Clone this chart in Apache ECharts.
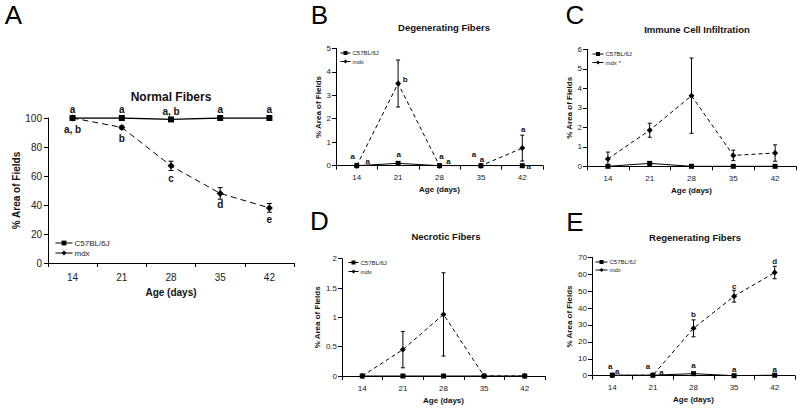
<!DOCTYPE html>
<html><head><meta charset="utf-8">
<script src="https://cdn.jsdelivr.net/npm/echarts@6/dist/echarts.min.js"></script>
<style>html,body{margin:0;padding:0;background:#fff}#c{width:800px;height:410px}</style>
</head><body><div id="c"></div>
<script>
// ---------- DATA ----------
const ages = ['14', '21', '28', '35', '42'];
const nameC57 = 'C57BL/6J';
const nameMdx = 'mdx';

// A: Normal Fibers
const normalTitle = 'Normal Fibers';
const normalTicks = [0, 20, 40, 60, 80, 100];
const normalC57 = [100, 100, 99, 100, 100];
const normalC57Err = [0, 0, 0.5, 0, 0];
const normalMdx = [100, 93.5, 67, 48, 38];
const normalMdxErr = [0, 1, 3.2, 4, 3];
const normalC57Letters = ['a', 'a', 'a, b', 'a', 'a'];
const normalMdxLetters = ['a, b', 'b', 'c', 'd', 'e'];

// B: Degenerating Fibers
const degenTitle = 'Degenerating Fibers';
const degenTicks = [0, 1, 2, 3, 4, 5];
const degenC57 = [0, 0.1, 0, 0, 0];
const degenC57Err = [0, 0.05, 0, 0, 0];
const degenMdx = [0, 3.5, 0, 0, 0.75];
const degenMdxErr = [0, 1.0, 0, 0, 0.55];
const degenC57Letters = ['a', 'a', 'a', 'a', 'a'];
const degenMdxLetters = ['a', 'b', 'a', 'a', 'a'];

// C: Immune Cell Infiltration
const immuneTitle = 'Immune Cell Infiltration';
const immuneTicks = [0, 1, 2, 3, 4, 5, 6];
const immuneC57 = [0, 0.15, 0, 0, 0];
const immuneC57Err = [0, 0.08, 0, 0, 0];
const immuneMdx = [0.38, 1.85, 3.62, 0.56, 0.68];
const immuneMdxErr = [0.35, 0.36, 1.93, 0.27, 0.42];

// D: Necrotic Fibers
const necroTitle = 'Necrotic Fibers';
const necroTicks = [0, 0.5, 1, 1.5, 2];
const necroC57 = [0, 0, 0, 0, 0];
const necroC57Err = [0, 0, 0, 0, 0];
const necroMdx = [0, 0.45, 1.05, 0, 0];
const necroMdxErr = [0, 0.31, 0.71, 0, 0];

// E: Regenerating Fibers
const regenTitle = 'Regenerating Fibers';
const regenTicks = [0, 10, 20, 30, 40, 50, 60, 70];
const regenC57 = [0.3, 0.3, 1.2, 0, 0.3];
const regenC57Err = [0, 0, 0.6, 0, 0];
const regenMdx = [0.2, 0.3, 28, 47, 61];
const regenMdxErr = [0, 0, 5, 3.5, 3.7];
const regenC57Letters = ['a', 'a', 'a', 'a', 'a'];
const regenMdxLetters = ['a', 'a', 'b', 'c', 'd'];

// ---------- LAYOUT ----------
const FONT = '"Liberation Sans", Arial, Helvetica, sans-serif';
const INK = '#111';
const panels = [
  { tag: 'A', title: normalTitle, ticks: normalTicks,
    c57: normalC57, c57Err: normalC57Err, mdx: normalMdx, mdxErr: normalMdxErr,
    c57Letters: normalC57Letters, mdxLetters: normalMdxLetters,
    grid: { left: 48, top: 118, width: 246, height: 145 },
    titlePos: [171, 97], titleSize: 12, tagPos: [13.5, 15],
    tickSize: 10, nameSize: 10, xNameGap: 24, yNameGap: 27, xLabelMargin: 9, yLabelMargin: 6,
    legend: { left: 55, top: 239, itemWidth: 17, itemHeight: 6, fontSize: 8, gap: 2, lh: 8 },
    sym: 6, lineW: 1.3, dash: [6, 4], cap: 2.5, letterSize: 10, legendStar: false,
    c57Off: [[0,-9],[0,-9],[0,-8],[0,-9],[0,-9]],
    mdxOff: [[0,11.5],[0,11],[0,12.5],[0,11.5],[0,12]] },
  { tag: 'B', title: degenTitle, ticks: degenTicks,
    c57: degenC57, c57Err: degenC57Err, mdx: degenMdx, mdxErr: degenMdxErr,
    c57Letters: degenC57Letters, mdxLetters: degenMdxLetters,
    grid: { left: 336, top: 48.3, width: 207, height: 117.4 },
    titlePos: [444, 27.5], titleSize: 9.5, tagPos: [319.5, 15],
    tickSize: 8, nameSize: 8, xNameGap: 20, yNameGap: 13.5, xLabelMargin: 8, yLabelMargin: 5,
    legend: { left: 340, top: 49.5, itemWidth: 10, itemHeight: 5, fontSize: 6, gap: 1.5, lh: 7 },
    sym: 5, lineW: 1, dash: [4, 3], cap: 2, letterSize: 8, legendStar: false,
    c57Off: [[-4,-9],[0.5,-8.7],[2,-9],[-7,-11],[6.5,1]],
    mdxOff: [[11,-4.4],[7,-4],[9,-4.4],[1,-6.4],[1,-19]] },
  { tag: 'C', title: immuneTitle, ticks: immuneTicks,
    c57: immuneC57, c57Err: immuneC57Err, mdx: immuneMdx, mdxErr: immuneMdxErr,
    c57Letters: null, mdxLetters: null,
    grid: { left: 587, top: 49.3, width: 209, height: 117 },
    titlePos: [697, 29], titleSize: 9.5, tagPos: [575, 15],
    tickSize: 8, nameSize: 8, xNameGap: 20, yNameGap: 12.5, xLabelMargin: 8, yLabelMargin: 5,
    legend: { left: 592, top: 50.5, itemWidth: 11, itemHeight: 5, fontSize: 6, gap: 1.5, lh: 7 },
    sym: 5, lineW: 1, dash: [4, 3], cap: 2, letterSize: 8, legendStar: true },
  { tag: 'D', title: necroTitle, ticks: necroTicks,
    c57: necroC57, c57Err: necroC57Err, mdx: necroMdx, mdxErr: necroMdxErr,
    c57Letters: null, mdxLetters: null,
    grid: { left: 342, top: 258.7, width: 203, height: 117.3 },
    titlePos: [446, 236], titleSize: 9.5, tagPos: [319.5, 221],
    tickSize: 8, nameSize: 8, xNameGap: 20, yNameGap: 18.5, xLabelMargin: 8, yLabelMargin: 5,
    legend: { left: 348, top: 259, itemWidth: 10, itemHeight: 5, fontSize: 6, gap: 2, lh: 7 },
    sym: 5, lineW: 1, dash: [4, 3], cap: 2, letterSize: 8, legendStar: false },
  { tag: 'E', title: regenTitle, ticks: regenTicks,
    c57: regenC57, c57Err: regenC57Err, mdx: regenMdx, mdxErr: regenMdxErr,
    c57Letters: regenC57Letters, mdxLetters: regenMdxLetters,
    grid: { left: 592, top: 257.3, width: 203, height: 118.4 },
    titlePos: [695, 237.5], titleSize: 9.5, tagPos: [575, 221.5],
    tickSize: 8, nameSize: 8, xNameGap: 20, yNameGap: 18.5, xLabelMargin: 8, yLabelMargin: 5,
    legend: { left: 595, top: 258.5, itemWidth: 12, itemHeight: 5, fontSize: 6, gap: 1, lh: 7 },
    sym: 5, lineW: 1, dash: [4, 3], cap: 2, letterSize: 8, legendStar: false,
    c57Off: [[-2,-9],[-5,-9],[0,-8],[0,-6.5],[0,-6]],
    mdxOff: [[5,-3.5],[8.5,-3],[0,-14],[0,-10],[0,-11]] }
];

// ---------- BUILD ----------
function errSeries(gi, vals, errs, cap) {
  return {
    type: 'custom', xAxisIndex: gi, yAxisIndex: gi, z: 5, silent: true,
    itemStyle: { color: '#000' },
    data: vals.map((v, i) => [i, v, errs[i]]),
    renderItem(params, api) {
      const i = api.value(0), v = api.value(1), e = api.value(2);
      if (!e) return null;
      const t = api.coord([i, v + e]), b = api.coord([i, v - e]);
      const st = { stroke: '#000', lineWidth: 1 };
      return { type: 'group', children: [
        { type: 'line', shape: { x1: t[0], y1: t[1], x2: b[0], y2: b[1] }, style: st },
        { type: 'line', shape: { x1: t[0] - cap, y1: t[1], x2: t[0] + cap, y2: t[1] }, style: st },
        { type: 'line', shape: { x1: b[0] - cap, y1: b[1], x2: b[0] + cap, y2: b[1] }, style: st }
      ]};
    }
  };
}
function letterSeries(gi, vals, letters, offs, size) {
  return {
    type: 'custom', xAxisIndex: gi, yAxisIndex: gi, z: 6, silent: true,
    itemStyle: { color: INK },
    data: vals.map((v, i) => [i, v]),
    renderItem(params, api) {
      const k = params.dataIndex;
      const p = api.coord([api.value(0), api.value(1)]);
      return { type: 'text', x: p[0] + offs[k][0], y: p[1] + offs[k][1],
        style: { text: letters[k], align: 'center', verticalAlign: 'middle',
          fontFamily: FONT, fontWeight: 'bold', fontSize: size, fill: INK, stroke: null } };
    }
  };
}

const grid = [], xAxis = [], yAxis = [], series = [], legend = [], graphic = [];
panels.forEach((p, gi) => {
  grid.push(Object.assign({ containLabel: false }, p.grid));
  xAxis.push({
    type: 'category', gridIndex: gi, data: ages, boundaryGap: true,
    name: 'Age (days)', nameLocation: 'middle', nameGap: p.xNameGap,
    nameTextStyle: { fontFamily: FONT, fontWeight: 'bold', fontSize: p.nameSize, color: INK },
    axisLine: { lineStyle: { color: '#000', width: 1 } },
    axisTick: { show: true, alignWithLabel: false, length: 4, lineStyle: { color: '#000' } },
    axisLabel: { fontFamily: FONT, fontSize: p.tickSize, color: '#222', margin: p.xLabelMargin },
    splitLine: { show: false }
  });
  const t = p.ticks;
  yAxis.push({
    type: 'value', gridIndex: gi, min: t[0], max: t[t.length - 1], interval: t[1] - t[0],
    name: '% Area of Fields', nameLocation: 'middle', nameGap: p.yNameGap, nameRotate: 90,
    nameTextStyle: { fontFamily: FONT, fontWeight: 'bold', fontSize: p.nameSize, color: INK },
    axisLine: { show: true, lineStyle: { color: '#000', width: 1 } },
    axisTick: { show: true, length: 4, lineStyle: { color: '#000' } },
    axisLabel: { fontFamily: FONT, fontSize: p.tickSize, color: '#222', margin: p.yLabelMargin },
    splitLine: { show: false }
  });
  series.push({
    type: 'line', name: nameMdx, xAxisIndex: gi, yAxisIndex: gi, data: p.mdx, z: 2,
    symbol: 'diamond', symbolSize: p.sym + 1, showSymbol: true,
    lineStyle: { color: '#000', width: 1, type: p.dash },
    itemStyle: { color: '#000' }, animation: false
  });
  series.push({
    type: 'line', name: nameC57, xAxisIndex: gi, yAxisIndex: gi, data: p.c57, z: 3,
    symbol: 'rect', symbolSize: p.sym, showSymbol: true,
    lineStyle: { color: '#000', width: p.lineW, type: 'solid' },
    itemStyle: { color: '#000' }, animation: false
  });
  series.push(errSeries(gi, p.mdx, p.mdxErr, p.cap));
  series.push(errSeries(gi, p.c57, p.c57Err, p.cap));
  if (p.c57Letters) series.push(letterSeries(gi, p.c57, p.c57Letters, p.c57Off, p.letterSize));
  if (p.mdxLetters) series.push(letterSeries(gi, p.mdx, p.mdxLetters, p.mdxOff, p.letterSize));
  const L = p.legend;
  legend.push({
    orient: 'vertical', left: L.left, top: L.top, padding: 0, itemGap: L.gap,
    itemWidth: L.itemWidth, itemHeight: L.itemHeight, selectedMode: false,
    data: [nameC57, nameMdx],
    lineStyle: { type: 'solid', width: 1 },
    textStyle: { fontFamily: FONT, fontSize: L.fontSize, lineHeight: L.lh, color: '#222', padding: [0, 0, 0, -3] },
    formatter: p.legendStar ? (n => n === nameMdx ? n + ' *' : n) : (n => n)
  });
  graphic.push({ type: 'text', x: p.titlePos[0], y: p.titlePos[1],
    style: { text: p.title, align: 'center', verticalAlign: 'middle', fontFamily: FONT,
      fontWeight: 'bold', fontSize: p.titleSize, fill: INK } });
  graphic.push({ type: 'text', x: p.tagPos[0], y: p.tagPos[1],
    style: { text: p.tag, align: 'center', verticalAlign: 'middle', fontFamily: FONT,
      fontWeight: 'normal', fontSize: 26, fill: '#000' } });
});

const chart = echarts.init(document.getElementById('c'), null, { renderer: 'svg' });
chart.setOption({
  backgroundColor: '#fff', animation: false,
  grid, xAxis, yAxis, series, legend, graphic
});
</script></body></html>
